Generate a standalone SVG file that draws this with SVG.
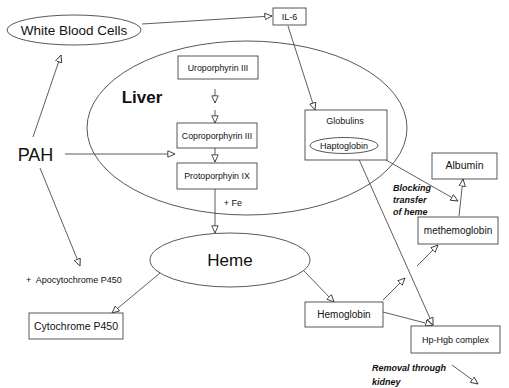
<svg xmlns="http://www.w3.org/2000/svg" width="509" height="388" viewBox="0 0 509 388">
<defs>
<marker id="ah" viewBox="0 0 10 10" refX="9.5" refY="5" markerWidth="8" markerHeight="8" markerUnits="userSpaceOnUse" orient="auto">
<path d="M0.5,1 L9.5,5 L0.5,9 z" fill="#fff" stroke="#333" stroke-width="1.1"/>
</marker>
</defs>
<style>
.shape{fill:#fff;stroke:#444;stroke-width:0.9}
.outline{fill:none;stroke:#444;stroke-width:0.9}
.t{font-family:"Liberation Sans",Arial,sans-serif;fill:#111;text-anchor:middle}
.bi{font-family:"Liberation Sans",Arial,sans-serif;fill:#111;font-weight:bold;font-style:italic;font-size:9px}
.c{fill:none;stroke:#333;stroke-width:0.8;marker-end:url(#ah)}
</style>
<rect width="509" height="388" fill="#fff"/>
<g id="liver">
<ellipse class="outline" cx="247" cy="128" rx="160" ry="87"/>
<text class="t" x="142" y="103" font-size="17" font-weight="bold">Liver</text>
</g>
<g id="connectors">
<line class="c" x1="142" y1="24" x2="272" y2="16"/>
<line class="c" x1="33" y1="137" x2="61" y2="55"/>
<line class="c" x1="40" y1="168" x2="80" y2="266"/>
<line class="c" x1="65" y1="154" x2="175" y2="154"/>
<line class="c" x1="215" y1="89" x2="215" y2="103"/>
<line class="c" x1="215" y1="110" x2="215" y2="123"/>
<line class="c" x1="215" y1="148" x2="215" y2="162"/>
<line class="c" x1="215" y1="189" x2="215" y2="233"/>
<line class="c" x1="288" y1="26" x2="315" y2="110"/>
<line class="c" x1="372" y1="152" x2="458" y2="201"/>
<line class="c" x1="459" y1="216" x2="463" y2="179"/>
<line class="c" x1="357" y1="155" x2="433" y2="325"/>
<line class="c" x1="160" y1="273" x2="112" y2="313"/>
<line class="c" x1="303" y1="270" x2="334" y2="302"/>
<line class="c" x1="383" y1="300" x2="405" y2="278"/>
<line class="c" x1="417" y1="266" x2="438" y2="245"/>
<line class="c" x1="383" y1="312" x2="433" y2="325"/>
<line class="c" x1="452" y1="365" x2="478" y2="384"/>
</g>
<g id="wbc">
<ellipse class="shape" cx="74" cy="30" rx="67" ry="15"/>
<text class="t" x="74" y="35" font-size="13.5">White Blood Cells</text>
</g>
<g id="il6">
<rect class="shape" x="273" y="8" width="33" height="17"/>
<text class="t" x="289.5" y="20" font-size="9">IL-6</text>
</g>
<g id="pah">
<text class="t" x="35.5" y="161" font-size="18">PAH</text>
</g>
<g id="uro">
<rect class="shape" x="178" y="56" width="80" height="23"/>
<text class="t" x="218" y="71" font-size="8.8">Uroporphyrin III</text>
</g>
<g id="copro">
<rect class="shape" x="177" y="123" width="80" height="25"/>
<text class="t" x="217" y="139" font-size="8.8">Coproporphyrin III</text>
</g>
<g id="proto">
<rect class="shape" x="177" y="163" width="80" height="26"/>
<text class="t" x="217" y="179" font-size="8.8">Protoporphyin IX</text>
</g>
<g id="fe">
<text class="t" x="233" y="206" font-size="9">+ Fe</text>
</g>
<g id="globulins">
<rect class="shape" x="305" y="110" width="82" height="50"/>
<text class="t" x="345" y="124" font-size="9">Globulins</text>
<ellipse class="shape" cx="344" cy="145.5" rx="34" ry="8"/>
<text class="t" x="344" y="149" font-size="9">Haptoglobin</text>
</g>
<g id="albumin">
<rect class="shape" x="432" y="153" width="65" height="26"/>
<text class="t" x="464.5" y="169" font-size="10.5">Albumin</text>
</g>
<g id="blocking">
<text class="bi" x="393" y="191">Blocking</text>
<text class="bi" x="393" y="203">transfer</text>
<text class="bi" x="393" y="215">of heme</text>
</g>
<g id="methemoglobin">
<rect class="shape" x="418" y="217" width="80" height="27"/>
<text class="t" x="458" y="234" font-size="10">methemoglobin</text>
</g>
<g id="heme">
<ellipse class="shape" cx="230" cy="260" rx="80" ry="27"/>
<text class="t" x="230" y="266" font-size="17">Heme</text>
</g>
<g id="apocytochrome">
<text x="26" y="283" xml:space="preserve" font-family="Liberation Sans, Arial, sans-serif" font-size="9" fill="#111">+  Apocytochrome P450</text>
</g>
<g id="cytochrome">
<rect class="shape" x="29" y="313" width="94" height="26"/>
<text class="t" x="76" y="330" font-size="10.5">Cytochrome P450</text>
</g>
<g id="hemoglobin">
<rect class="shape" x="305" y="302" width="78" height="25"/>
<text class="t" x="344" y="318" font-size="10">Hemoglobin</text>
</g>
<g id="hphgb">
<rect class="shape" x="411" y="326" width="89" height="27"/>
<text class="t" x="455.5" y="343" font-size="9">Hp-Hgb complex</text>
</g>
<g id="removal">
<text class="bi" x="372" y="371">Removal through</text>
<text class="bi" x="372" y="385">kidney</text>
</g>
</svg>
